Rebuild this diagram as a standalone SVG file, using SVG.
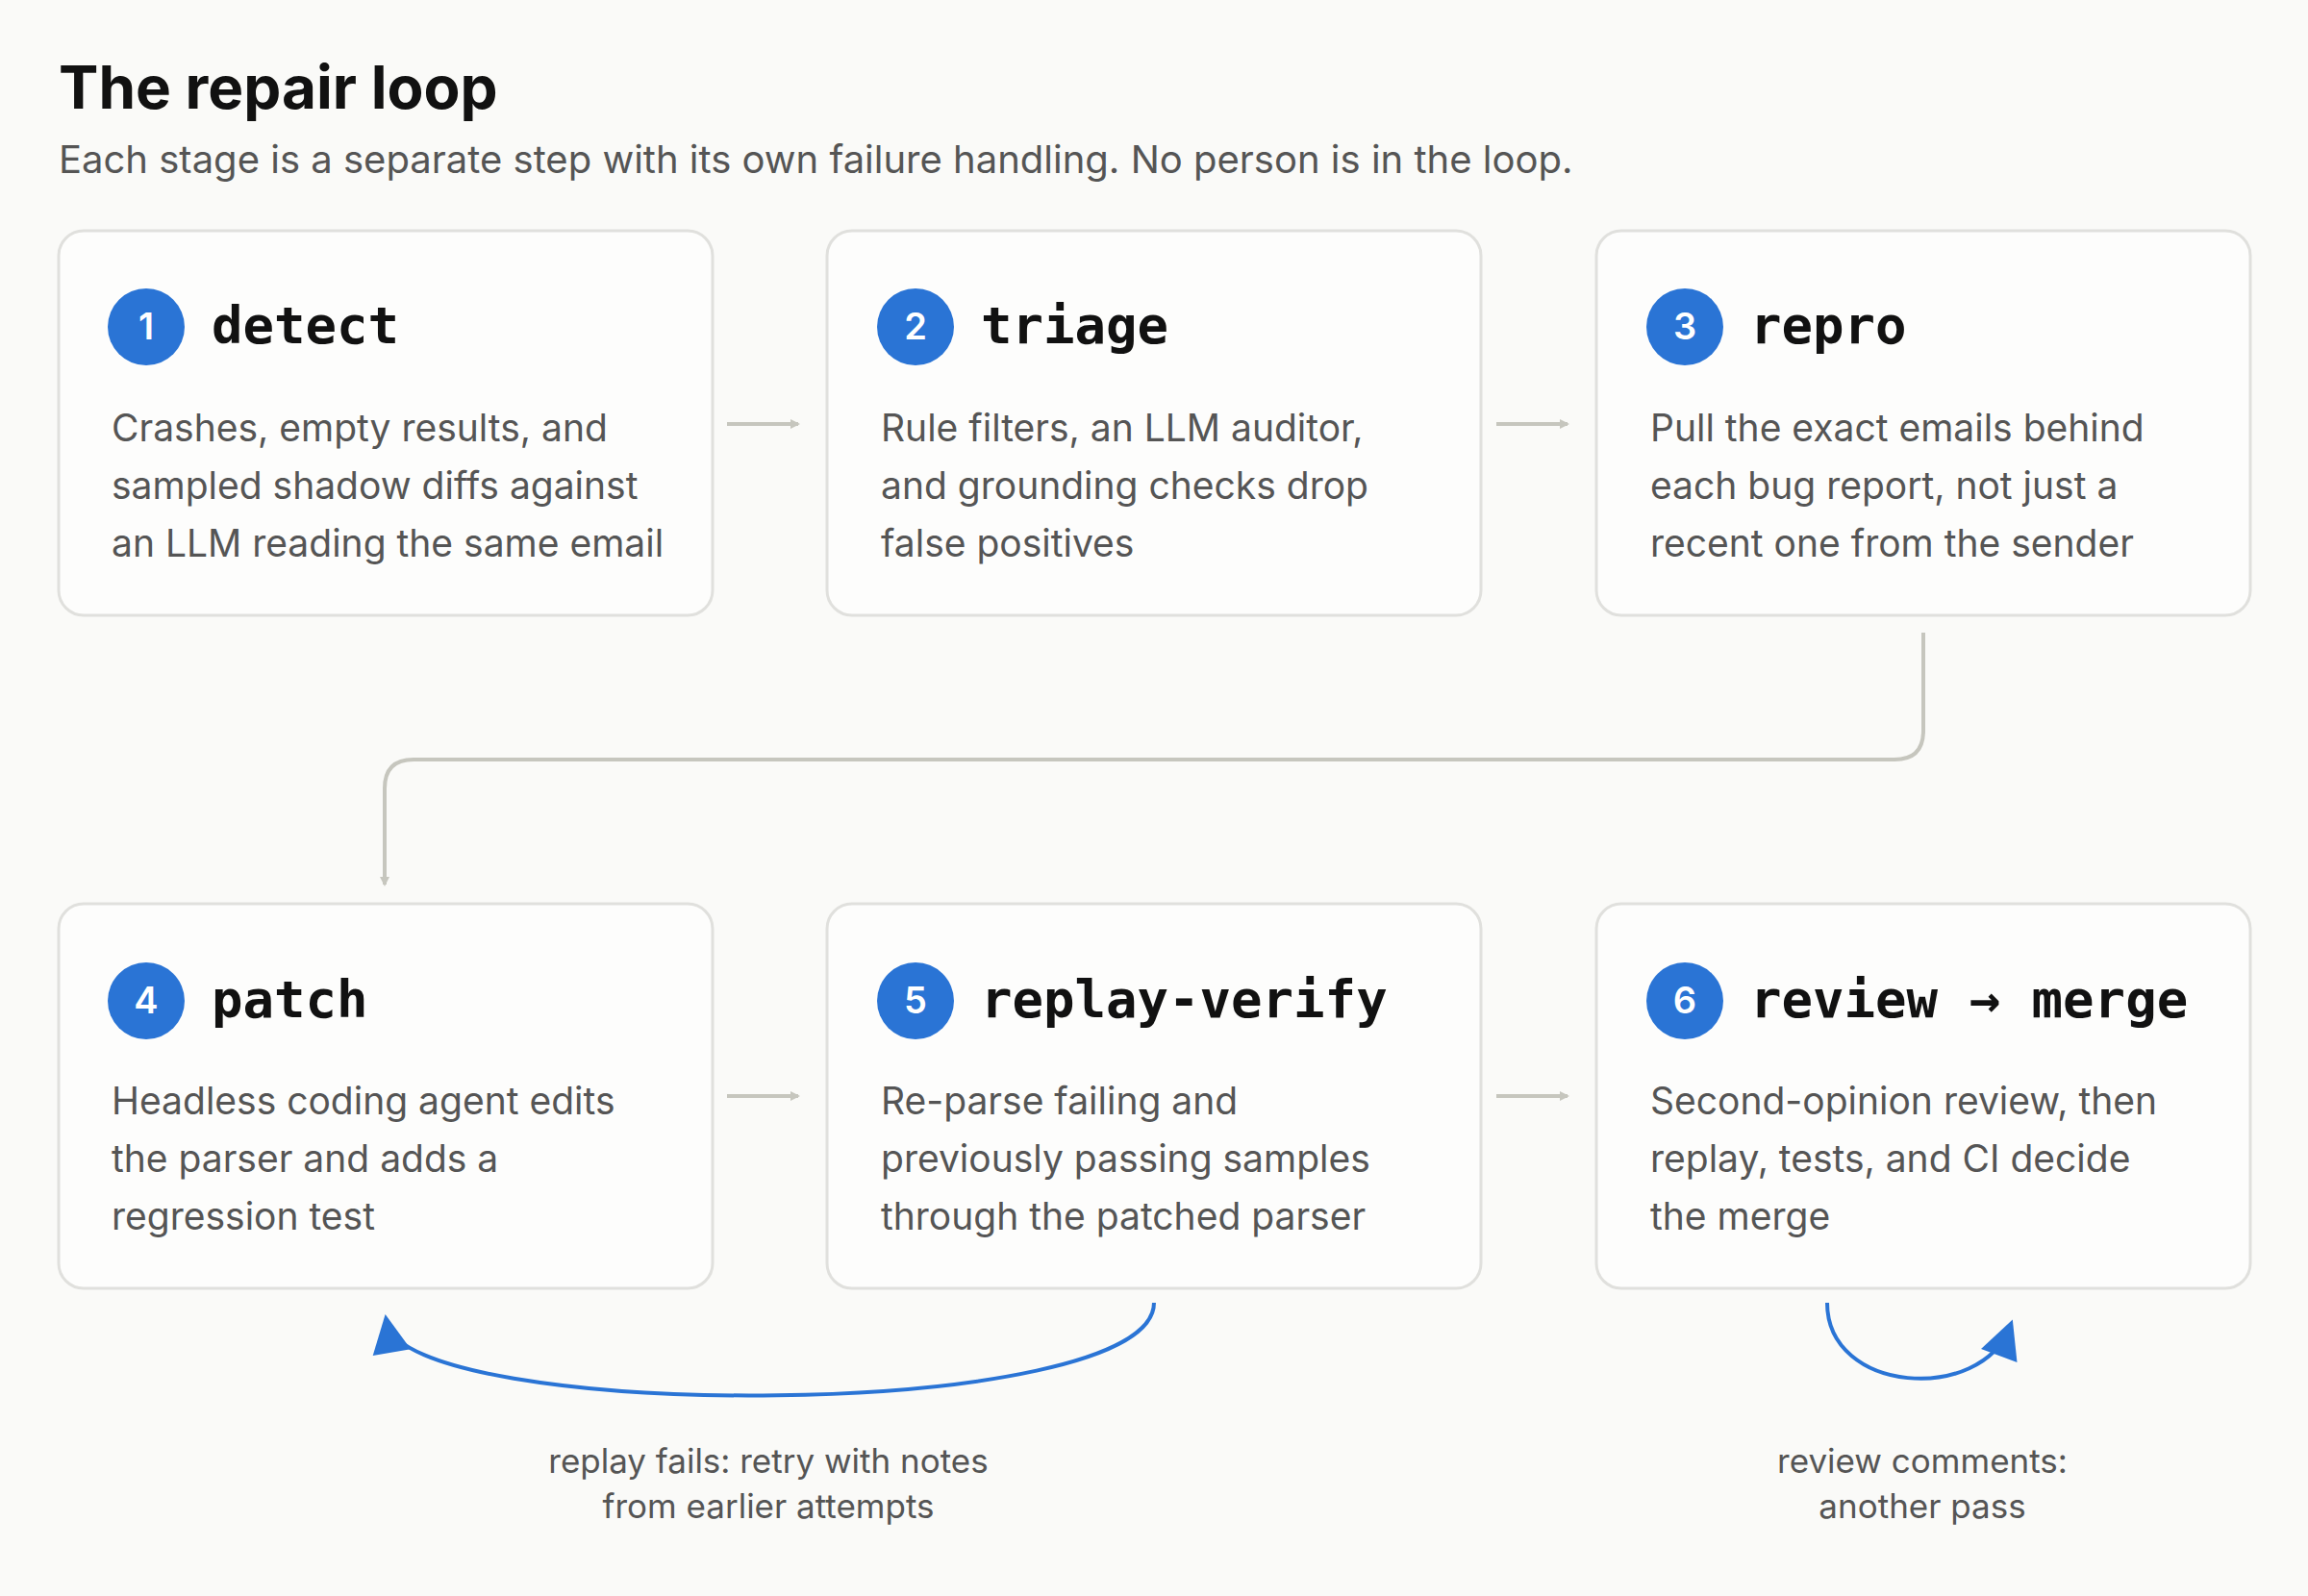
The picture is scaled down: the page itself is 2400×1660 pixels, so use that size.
<svg xmlns="http://www.w3.org/2000/svg" width="2400" height="1660" viewBox="0 0 2400 1660">
<style>
.box{fill:#fdfdfc;stroke:#e0e0dd;stroke-width:3}
.num{fill:#2a74d5}
.numt{font-family:"Inter","Liberation Sans",sans-serif;font-size:38px;font-weight:600;fill:#fff;text-anchor:middle}
.ttl{font-family:"DejaVu Sans Mono","Liberation Mono",monospace;font-size:54px;font-weight:bold;fill:#111}
.body{font-family:"Inter","Liberation Sans",sans-serif;font-size:39px;fill:#555}
.lbl{font-family:"Inter","Liberation Sans",sans-serif;font-size:35px;fill:#555;text-anchor:middle}
.g{fill:none;stroke:#c6c6be;stroke-width:4}
.b{fill:none;stroke:#2a74d5;stroke-width:4}
</style>
<defs>
<marker id="ag" markerWidth="10" markerHeight="10" refX="8" refY="5" orient="auto" markerUnits="userSpaceOnUse" viewBox="0 0 10 10"><path d="M0,0L10,5L0,10z" fill="#c6c6be"/></marker>
<marker id="ab" markerWidth="10" markerHeight="10" refX="8" refY="5" orient="auto" viewBox="0 0 10 10" style="overflow:visible"><path d="M0,0L10,5L0,10z" fill="#2a74d5"/></marker>
</defs>
<rect width="2400" height="1660" fill="#fafaf8"/>
<text x="61" y="113" font-family="Inter,'Liberation Sans',sans-serif" font-size="62" font-weight="bold" fill="#111">The repair loop</text>
<text x="61" y="180" font-family="Inter,'Liberation Sans',sans-serif" font-size="40" fill="#555">Each stage is a separate step with its own failure handling. No person is in the loop.</text>
<g id="connectors">
<path class="g" d="M756,441H830" marker-end="url(#ag)" style="stroke-width:4"/>
<path class="g" d="M1556,441H1630" marker-end="url(#ag)"/>
<path class="g" d="M756,1140H830" marker-end="url(#ag)"/>
<path class="g" d="M1556,1140H1630" marker-end="url(#ag)"/>
<path class="g" d="M2000,658V760Q2000,790 1970,790H430Q400,790 400,820V920" marker-end="url(#ag)"/>
<path class="b" d="M1200,1355C1200,1480 420,1480 402,1375" marker-end="url(#ab)"/>
<path class="b" d="M1900,1355C1900,1450 2060,1460 2090,1380" marker-end="url(#ab)"/>
<text class="lbl" x="799" y="1532">replay fails: retry with notes</text>
<text class="lbl" x="799" y="1579">from earlier attempts</text>
<text class="lbl" x="1999" y="1532">review comments:</text>
<text class="lbl" x="1999" y="1579">another pass</text>
</g>
<g id="n1"><rect class="box" x="61" y="240" width="680" height="400" rx="26"/><circle class="num" cx="152" cy="340" r="40"/><text class="numt" x="152" y="353">1</text><text class="ttl" x="220" y="357">detect</text>
<text class="body" x="116" y="459">Crashes, empty results, and</text><text class="body" x="116" y="519">sampled shadow diffs against</text><text class="body" x="116" y="579">an LLM reading the same email</text></g>
<g id="n2"><rect class="box" x="860" y="240" width="680" height="400" rx="26"/><circle class="num" cx="952" cy="340" r="40"/><text class="numt" x="952" y="353">2</text><text class="ttl" x="1020" y="357">triage</text>
<text class="body" x="916" y="459">Rule filters, an LLM auditor,</text><text class="body" x="916" y="519">and grounding checks drop</text><text class="body" x="916" y="579">false positives</text></g>
<g id="n3"><rect class="box" x="1660" y="240" width="680" height="400" rx="26"/><circle class="num" cx="1752" cy="340" r="40"/><text class="numt" x="1752" y="353">3</text><text class="ttl" x="1820" y="357">repro</text>
<text class="body" x="1716" y="459">Pull the exact emails behind</text><text class="body" x="1716" y="519">each bug report, not just a</text><text class="body" x="1716" y="579">recent one from the sender</text></g>
<g id="n4"><rect class="box" x="61" y="940" width="680" height="400" rx="26"/><circle class="num" cx="152" cy="1041" r="40"/><text class="numt" x="152" y="1054">4</text><text class="ttl" x="220" y="1058">patch</text>
<text class="body" x="116" y="1159">Headless coding agent edits</text><text class="body" x="116" y="1219">the parser and adds a</text><text class="body" x="116" y="1279">regression test</text></g>
<g id="n5"><rect class="box" x="860" y="940" width="680" height="400" rx="26"/><circle class="num" cx="952" cy="1041" r="40"/><text class="numt" x="952" y="1054">5</text><text class="ttl" x="1020" y="1058">replay-verify</text>
<text class="body" x="916" y="1159">Re-parse failing and</text><text class="body" x="916" y="1219">previously passing samples</text><text class="body" x="916" y="1279">through the patched parser</text></g>
<g id="n6"><rect class="box" x="1660" y="940" width="680" height="400" rx="26"/><circle class="num" cx="1752" cy="1041" r="40"/><text class="numt" x="1752" y="1054">6</text><text class="ttl" x="1820" y="1058">review → merge</text>
<text class="body" x="1716" y="1159">Second-opinion review, then</text><text class="body" x="1716" y="1219">replay, tests, and CI decide</text><text class="body" x="1716" y="1279">the merge</text></g>
</svg>
